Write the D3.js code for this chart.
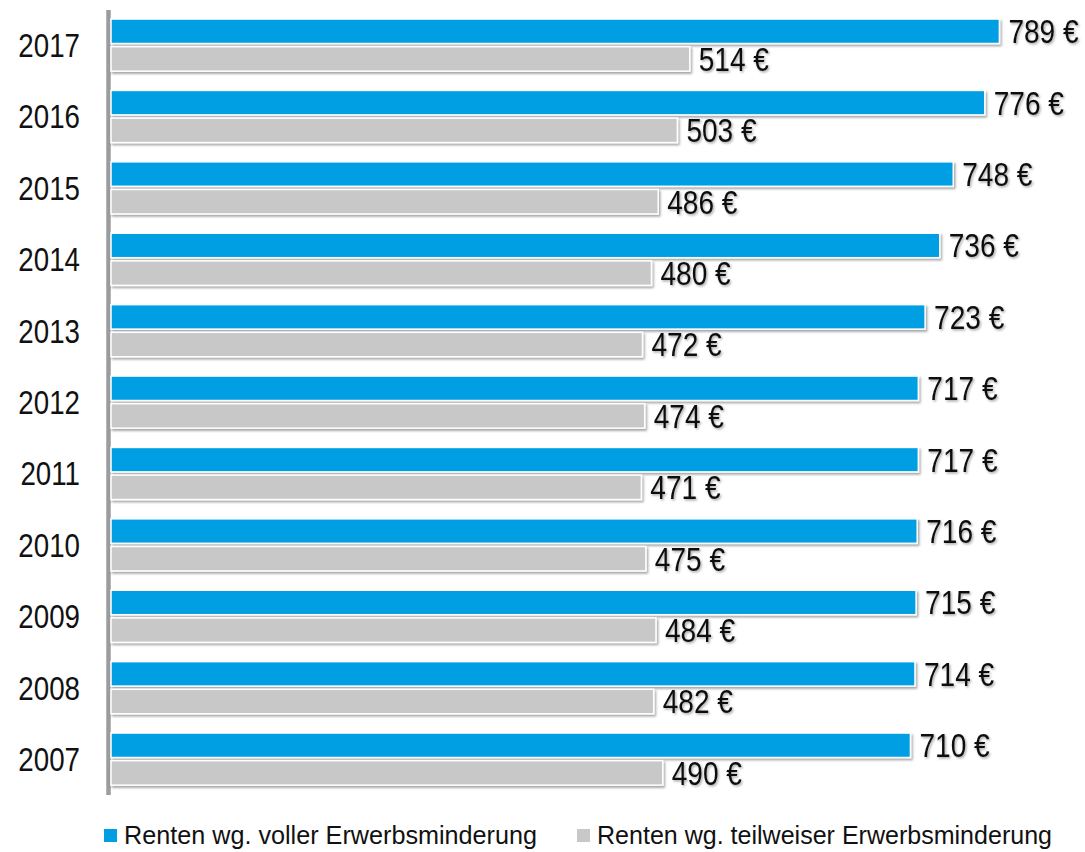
<!DOCTYPE html>
<html>
<head>
<meta charset="utf-8">
<script src="https://cdn.jsdelivr.net/npm/d3@7"></script>
<style>
  body { margin: 0; background: #fff; }
  svg text { font-family: "Liberation Sans Narrow", "Arial Narrow", "Liberation Sans", sans-serif; fill: #111; }
</style>
</head>
<body>
<div id="chart"></div>
<script>
var WD = 1085, HT = 852

// data, top to bottom
var years = ["2017","2016","2015","2014","2013","2012","2011","2010","2009","2008","2007"]
var voll = [789, 776, 748, 736, 723, 717, 717, 716, 715, 714, 710]
var teil = [514, 503, 486, 480, 472, 474, 471, 475, 484, 482, 490]
var seriesNames = ["Renten wg. voller Erwerbsminderung", "Renten wg. teilweiser Erwerbsminderung"]
var colors = ["#009fe3", "#c8c8c8"]

var rows = years.map(function(y, i){ return { year: y, vals: [voll[i], teil[i]] } })

// no narrow font installed -> squeeze regular sans horizontally
var NARROW = 0.85

var svg = d3.select("#chart").append("svg")
  .attr("width", WD)
  .attr("height", HT)

var defs = svg.append("defs")
var sh = defs.append("filter").attr("id", "barshadow")
  .attr("x", "-5%").attr("y", "-30%").attr("width", "110%").attr("height", "170%")
sh.append("feDropShadow").attr("dx", 1.5).attr("dy", 2).attr("stdDeviation", 1.2)
  .attr("flood-color", "#000").attr("flood-opacity", 0.35)
var tsh = defs.append("filter").attr("id", "textshadow")
  .attr("x", "-10%").attr("y", "-20%").attr("width", "130%").attr("height", "150%")
tsh.append("feDropShadow").attr("dx", 1.5).attr("dy", 1.5).attr("stdDeviation", 1)
  .attr("flood-color", "#000").attr("flood-opacity", 0.35)

var x = d3.scaleLinear().domain([0, 900]).range([111, 111 + 900 * 1.126])

var y = d3.scaleBand()
  .domain(years)
  .range([9.4, 794.8])
  .paddingInner(0.27)
  .paddingOuter(0.135)

var ySub = d3.scaleBand()
  .domain([0, 1])
  .range([0, y.bandwidth()])
  .paddingInner(0.115)

// axis line
svg.append("line")
  .attr("x1", 108.5).attr("x2", 108.5)
  .attr("y1", 10).attr("y2", 795)
  .attr("stroke", "#9c9c9c")
  .attr("stroke-width", 4.5)

// groups
var g = svg.selectAll("g.row")
  .data(rows)
  .enter().append("g")
    .attr("class", "row")
    .attr("transform", function(d){ return "translate(0," + y(d.year) + ")" })

var bars = g.selectAll("g.bar")
  .data(function(d){ return d.vals.map(function(v, k){ return { v: v, k: k } }) })
  .enter().append("g").attr("class", "bar")

bars.append("rect")
  .attr("x", x(0))
  .attr("y", function(d){ return ySub(d.k) })
  .attr("width", function(d){ return x(d.v) - x(0) })
  .attr("height", ySub.bandwidth())
  .attr("fill", function(d){ return colors[d.k] })
  .attr("stroke", "#fff")
  .attr("stroke-width", 1.5)
  .attr("filter", "url(#barshadow)")

bars.append("text")
  .attr("transform", function(d){
    return "translate(" + (x(d.v) + 9) + "," + (ySub(d.k) + ySub.bandwidth() / 2) + ") scale(" + NARROW + ",1)"
  })
  .attr("dy", "0.36em")
  .attr("font-size", 33)
  .attr("filter", "url(#textshadow)")
  .text(function(d){ return d.v + " €" })

// year labels
g.append("text")
  .attr("transform", "translate(80," + (y.bandwidth() / 2) + ") scale(0.84,1)")
  .attr("dy", "0.36em")
  .attr("text-anchor", "end")
  .attr("font-size", 33)
  .text(function(d){ return d.year })

// legend
var legX = [104, 577], legW = [413, 455]
var leg = svg.selectAll("g.leg")
  .data(seriesNames)
  .enter().append("g").attr("class", "leg")
    .attr("transform", function(d, i){ return "translate(" + legX[i] + ",829)" })
leg.append("rect")
  .attr("width", 13).attr("height", 13)
  .attr("fill", function(d, i){ return colors[i] })
leg.append("text")
  .attr("x", 20)
  .attr("y", 15)
  .attr("font-size", 26)
  .attr("textLength", function(d, i){ return legW[i] })
  .attr("lengthAdjust", "spacingAndGlyphs")
  .text(function(d){ return d })
</script>
</body>
</html>
